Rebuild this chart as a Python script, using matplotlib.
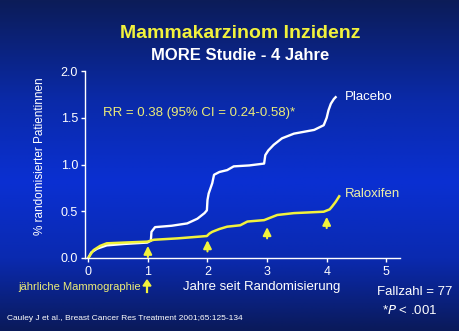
import matplotlib
matplotlib.use("Agg")
import matplotlib.pyplot as plt
import numpy as np
from matplotlib.colors import LinearSegmentedColormap

plt.rcParams['font.family'] = ['Liberation Sans', 'DejaVu Sans']

# cumulative incidence curves (% of randomised patients)
placebo_t = [0, 0.05, 0.15, 0.31, 0.6, 0.99, 1.05, 1.06, 1.12, 1.4, 1.66, 1.83,
             1.95, 1.99, 2.0, 2.02, 2.08, 2.11, 2.2, 2.33, 2.44, 2.7, 2.95,
             2.97, 3.02, 3.11, 3.25, 3.45, 3.79, 3.95, 4.0, 4.03, 4.07, 4.12, 4.15]
placebo_y = [0, 0.06, 0.10, 0.135, 0.15, 0.165, 0.185, 0.28, 0.33, 0.345, 0.37,
             0.42, 0.48, 0.51, 0.62, 0.69, 0.80, 0.89, 0.92, 0.94, 0.98, 0.99,
             1.01, 1.10, 1.15, 1.21, 1.28, 1.33, 1.37, 1.42, 1.50, 1.58, 1.65,
             1.70, 1.72]

raloxifen_t = [0, 0.05, 0.09, 0.2, 0.31, 0.6, 0.99, 1.1, 1.5, 1.99, 2.03, 2.08,
               2.2, 2.33, 2.55, 2.67, 2.95, 3.05, 3.17, 3.45, 3.95, 4.05, 4.09,
               4.15, 4.21]
raloxifen_y = [0, 0.05, 0.085, 0.13, 0.157, 0.165, 0.175, 0.195, 0.21, 0.235,
               0.26, 0.28, 0.31, 0.335, 0.35, 0.39, 0.405, 0.43, 0.46, 0.48,
               0.495, 0.52, 0.55, 0.60, 0.66]

# yearly mammography markers
mammo_years = [1, 2, 3, 4]
mammo_base = [0.01, 0.07, 0.21, 0.32]
mammo_len = 0.12

x_ticks = [0, 1, 2, 3, 4, 5]
y_ticks = [0.0, 0.5, 1.0, 1.5, 2.0]

YELLOW = '#f2f23c'
PALE = '#ecec78'

fig = plt.figure(figsize=(4.59, 3.31), dpi=100)

# slide background gradient
bg = fig.add_axes([0, 0, 1, 1], zorder=0)
cmap = LinearSegmentedColormap.from_list('slide', [
    (0.0, '#0c1c58'), (0.3, '#0a2aa8'), (0.55, '#0a30d2'),
    (0.78, '#0a2ab0'), (1.0, '#0a1a5a')])
bg.imshow(np.linspace(0, 1, 256).reshape(-1, 1), aspect='auto', cmap=cmap,
          extent=[0, 1, 0, 1], origin='upper')
bg.set_axis_off()

ax = fig.add_axes([85 / 459, 73 / 331, 315 / 459, 187 / 331], zorder=1)
ax.set_facecolor('none')
ax.plot(placebo_t, placebo_y, color='white', lw=1.7, solid_joinstyle='round')
ax.plot(raloxifen_t, raloxifen_y, color=YELLOW, lw=1.8, solid_joinstyle='round')

for x, b in zip(mammo_years, mammo_base):
    ax.annotate('', xy=(x, b + mammo_len), xytext=(x, b),
                arrowprops=dict(arrowstyle='-|>', color=YELLOW, lw=1.5,
                                mutation_scale=12, shrinkA=0, shrinkB=0))

ax.set_xlim(-0.055, 5.23)
ax.set_ylim(0, 2.0)
ax.set_xticks(x_ticks)
ax.set_yticks(y_ticks)
ax.set_yticklabels([f'{v:.1f}' for v in y_ticks])
for s in ['top', 'right']:
    ax.spines[s].set_visible(False)
for s in ['left', 'bottom']:
    ax.spines[s].set_color('white')
    ax.spines[s].set_linewidth(1.0)
ax.tick_params(colors='white', labelsize=9, length=3, width=1, pad=2)
ax.tick_params(axis='x', pad=3)

ax.text(0.25, 1.55, 'RR = 0.38 (95% CI = 0.24-0.58)*', color=PALE,
        fontsize=9.5, va='center')
ax.text(4.3, 1.72, 'Placebo', color='white', fontsize=9.5, va='center')
ax.text(4.3, 0.68, 'Raloxifen', color='#f0f0a8', fontsize=9.5, va='center')

fig.text(240 / 459, 1 - 33 / 331, 'Mammakarzinom Inzidenz', color=YELLOW,
         fontsize=14, fontweight='bold', ha='center', va='center')
fig.text(240 / 459, 1 - 55 / 331, 'MORE Studie - 4 Jahre', color='white',
         fontsize=12, fontweight='bold', ha='center', va='center')
fig.text(40 / 459, 1 - 156 / 331, '% randomisierter Patientinnen',
         color='white', fontsize=8.5, rotation=90, ha='center', va='center')
fig.text(262 / 459, 1 - 287 / 331, 'Jahre seit Randomisierung', color='white',
         fontsize=9.5, ha='center', va='center')
fig.text(18 / 459, 1 - 287 / 331, 'jährliche Mammographie', color=PALE,
         fontsize=8, ha='left', va='center')
fig.add_artist(plt.Line2D([147 / 459, 147 / 459], [1 - 292 / 331, 1 - 286 / 331],
                          color=YELLOW, lw=1.6))
fig.patches.append(plt.Polygon([[143 / 459, 1 - 286 / 331], [151 / 459, 1 - 286 / 331],
                                [147 / 459, 1 - 280 / 331]], closed=True,
                               color=YELLOW, transform=fig.transFigure))
fig.text(452 / 459, 1 - 292 / 331, 'Fallzahl = 77', color='white',
         fontsize=9.5, ha='right', va='center')
fig.text(437 / 459, 1 - 311 / 331, r'*$P$ < .001', color='white',
         fontsize=9.5, ha='right', va='center')
fig.text(7 / 459, 1 - 318 / 331,
         'Cauley J et al., Breast Cancer Res Treatment 2001;65:125-134',
         color='white', fontsize=6, ha='left', va='center')

fig.savefig('out.png', dpi=100)
